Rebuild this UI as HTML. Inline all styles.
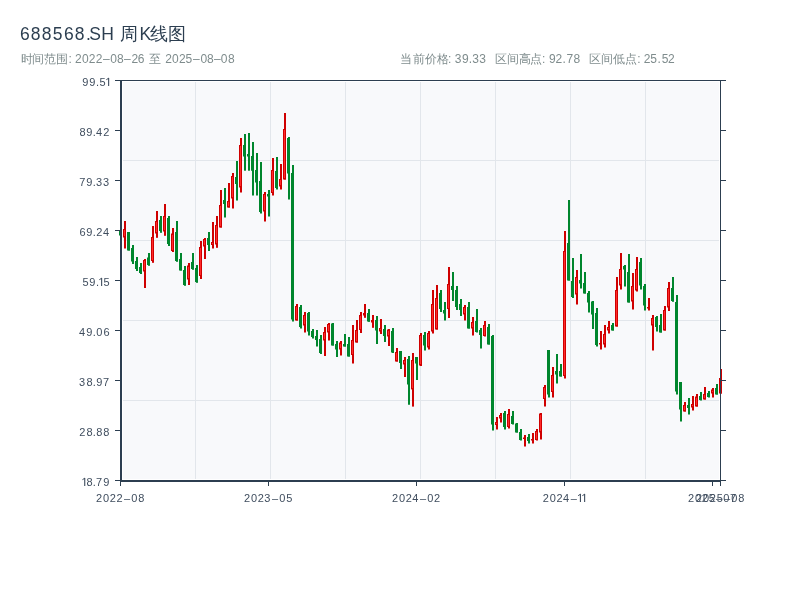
<!DOCTYPE html>
<html><head><meta charset="utf-8"><style>
html,body{margin:0;padding:0;background:#fff;width:800px;height:600px;overflow:hidden}
text{font-family:"Liberation Sans",sans-serif}
svg{will-change:transform}
.t1{font-size:17.5px;fill:#2c3e50}
.t2{font-size:12px;fill:#7f8c8d}
.yl{font-size:11px;fill:#3f4d5e}
.xl{font-size:11px;fill:#3f4d5e}
</style></head><body>
<svg width="800" height="600" viewBox="0 0 800 600" style="position:absolute;left:0;top:0">
<rect x="0" y="0" width="800" height="600" fill="#ffffff"/>
<rect x="123" y="82" width="596" height="397" fill="#f8f9fb"/>
<rect x="195" y="82" width="1" height="397" fill="#e2e6eb"/><rect x="270" y="82" width="1" height="397" fill="#e2e6eb"/><rect x="345" y="82" width="1" height="397" fill="#e2e6eb"/><rect x="420" y="82" width="1" height="397" fill="#e2e6eb"/><rect x="495" y="82" width="1" height="397" fill="#e2e6eb"/><rect x="570" y="82" width="1" height="397" fill="#e2e6eb"/><rect x="645" y="82" width="1" height="397" fill="#e2e6eb"/><rect x="123" y="160" width="596" height="1" fill="#e2e6eb"/><rect x="123" y="240" width="596" height="1" fill="#e2e6eb"/><rect x="123" y="320" width="596" height="1" fill="#e2e6eb"/><rect x="123" y="400" width="596" height="1" fill="#e2e6eb"/>
<rect x="120.0" y="229.0" width="2" height="8.00" fill="#00862d"/><rect x="119.0" y="231.0" width="3" height="4.50" fill="#00862d"/><rect x="124.0" y="221.0" width="2" height="27.50" fill="#cf0000"/><rect x="123.5" y="229.5" width="2" height="7.50" fill="#ff2b2b" stroke="#cf0000" stroke-width="1"/><rect x="128.0" y="232.0" width="2" height="18.50" fill="#00862d"/><rect x="127.0" y="232.0" width="3" height="18.50" fill="#00862d"/><rect x="132.0" y="245.0" width="2" height="19.00" fill="#00862d"/><rect x="131.0" y="248.0" width="3" height="13.50" fill="#00862d"/><rect x="136.0" y="257.0" width="2" height="14.00" fill="#00862d"/><rect x="135.0" y="261.0" width="3" height="8.00" fill="#00862d"/><rect x="140.0" y="263.0" width="2" height="11.00" fill="#00862d"/><rect x="139.0" y="267.0" width="3" height="6.00" fill="#00862d"/><rect x="144.0" y="259.0" width="2" height="29.00" fill="#cf0000"/><rect x="143.5" y="260.5" width="2" height="10.50" fill="#ff2b2b" stroke="#cf0000" stroke-width="1"/><rect x="148.0" y="253.0" width="2" height="12.80" fill="#00862d"/><rect x="147.0" y="257.5" width="3" height="7.50" fill="#00862d"/><rect x="152.0" y="226.0" width="2" height="36.80" fill="#cf0000"/><rect x="151.5" y="237.5" width="2" height="23.00" fill="#ff2b2b" stroke="#cf0000" stroke-width="1"/><rect x="156.0" y="211.0" width="2" height="26.80" fill="#cf0000"/><rect x="155.5" y="221.5" width="2" height="11.50" fill="#ff2b2b" stroke="#cf0000" stroke-width="1"/><rect x="160.0" y="216.0" width="2" height="16.80" fill="#00862d"/><rect x="159.0" y="220.0" width="3" height="11.00" fill="#00862d"/><rect x="164.0" y="204.0" width="2" height="31.80" fill="#cf0000"/><rect x="163.5" y="216.5" width="2" height="14.50" fill="#ff2b2b" stroke="#cf0000" stroke-width="1"/><rect x="168.0" y="216.0" width="2" height="30.00" fill="#00862d"/><rect x="167.0" y="218.0" width="3" height="26.00" fill="#00862d"/><rect x="172.0" y="228.0" width="2" height="24.00" fill="#cf0000"/><rect x="171.5" y="234.0" width="2" height="16.50" fill="#ff2b2b" stroke="#cf0000" stroke-width="1"/><rect x="176.0" y="221.0" width="2" height="40.80" fill="#00862d"/><rect x="175.0" y="232.0" width="3" height="29.00" fill="#00862d"/><rect x="180.0" y="253.0" width="2" height="17.50" fill="#00862d"/><rect x="179.0" y="259.0" width="3" height="11.50" fill="#00862d"/><rect x="184.0" y="266.0" width="2" height="19.80" fill="#00862d"/><rect x="183.0" y="270.0" width="3" height="15.00" fill="#00862d"/><rect x="188.0" y="263.0" width="2" height="22.00" fill="#cf0000"/><rect x="187.5" y="266.0" width="2" height="13.00" fill="#ff2b2b" stroke="#cf0000" stroke-width="1"/><rect x="192.0" y="253.0" width="2" height="16.80" fill="#00862d"/><rect x="191.0" y="262.0" width="3" height="7.00" fill="#00862d"/><rect x="196.0" y="265.0" width="2" height="17.80" fill="#00862d"/><rect x="195.0" y="268.0" width="3" height="14.00" fill="#00862d"/><rect x="200.0" y="241.0" width="2" height="38.00" fill="#cf0000"/><rect x="199.5" y="247.5" width="2" height="28.00" fill="#ff2b2b" stroke="#cf0000" stroke-width="1"/><rect x="204.0" y="238.0" width="2" height="21.00" fill="#cf0000"/><rect x="203.5" y="239.5" width="2" height="6.50" fill="#ff2b2b" stroke="#cf0000" stroke-width="1"/><rect x="208.0" y="232.0" width="2" height="19.00" fill="#00862d"/><rect x="207.0" y="238.0" width="3" height="7.00" fill="#00862d"/><rect x="212.0" y="222.0" width="2" height="26.50" fill="#cf0000"/><rect x="211.5" y="242.5" width="2" height="2.00" fill="#ff2b2b" stroke="#cf0000" stroke-width="1"/><rect x="216.0" y="216.0" width="2" height="31.80" fill="#cf0000"/><rect x="215.5" y="225.5" width="2" height="18.50" fill="#ff2b2b" stroke="#cf0000" stroke-width="1"/><rect x="220.0" y="190.0" width="2" height="37.50" fill="#cf0000"/><rect x="219.5" y="205.5" width="2" height="21.50" fill="#ff2b2b" stroke="#cf0000" stroke-width="1"/><rect x="224.0" y="188.0" width="2" height="29.50" fill="#00862d"/><rect x="223.0" y="200.0" width="3" height="4.00" fill="#00862d"/><rect x="228.0" y="183.0" width="2" height="24.50" fill="#cf0000"/><rect x="227.5" y="201.5" width="2" height="5.50" fill="#ff2b2b" stroke="#cf0000" stroke-width="1"/><rect x="232.0" y="173.0" width="2" height="35.50" fill="#cf0000"/><rect x="231.5" y="176.5" width="2" height="21.50" fill="#ff2b2b" stroke="#cf0000" stroke-width="1"/><rect x="236.0" y="161.0" width="2" height="39.50" fill="#00862d"/><rect x="235.0" y="177.0" width="3" height="7.00" fill="#00862d"/><rect x="240.0" y="138.0" width="2" height="54.50" fill="#cf0000"/><rect x="239.5" y="145.5" width="2" height="41.50" fill="#ff2b2b" stroke="#cf0000" stroke-width="1"/><rect x="244.0" y="134.0" width="2" height="36.70" fill="#00862d"/><rect x="243.0" y="145.0" width="3" height="11.50" fill="#00862d"/><rect x="248.0" y="133.0" width="2" height="37.70" fill="#00862d"/><rect x="247.0" y="154.0" width="3" height="2.50" fill="#00862d"/><rect x="252.0" y="142.0" width="2" height="53.50" fill="#00862d"/><rect x="251.0" y="156.0" width="3" height="14.75" fill="#00862d"/><rect x="256.0" y="153.0" width="2" height="42.50" fill="#00862d"/><rect x="255.0" y="170.0" width="3" height="12.50" fill="#00862d"/><rect x="260.0" y="162.0" width="2" height="51.50" fill="#00862d"/><rect x="259.0" y="181.0" width="3" height="31.00" fill="#00862d"/><rect x="264.0" y="192.0" width="2" height="29.50" fill="#cf0000"/><rect x="263.5" y="194.5" width="2" height="16.50" fill="#ff2b2b" stroke="#cf0000" stroke-width="1"/><rect x="268.0" y="190.0" width="2" height="26.50" fill="#00862d"/><rect x="267.0" y="194.0" width="3" height="2.50" fill="#00862d"/><rect x="272.0" y="158.0" width="2" height="37.50" fill="#cf0000"/><rect x="271.5" y="170.5" width="2" height="22.00" fill="#ff2b2b" stroke="#cf0000" stroke-width="1"/><rect x="276.0" y="157.0" width="2" height="32.50" fill="#00862d"/><rect x="275.0" y="171.0" width="3" height="17.00" fill="#00862d"/><rect x="280.0" y="164.0" width="2" height="25.50" fill="#cf0000"/><rect x="279.5" y="179.5" width="2" height="6.50" fill="#ff2b2b" stroke="#cf0000" stroke-width="1"/><rect x="284.0" y="113.0" width="2" height="66.50" fill="#cf0000"/><rect x="283.5" y="129.5" width="2" height="49.50" fill="#ff2b2b" stroke="#cf0000" stroke-width="1"/><rect x="288.0" y="137.0" width="2" height="62.50" fill="#00862d"/><rect x="287.0" y="138.0" width="3" height="35.50" fill="#00862d"/><rect x="292.0" y="165.0" width="2" height="156.50" fill="#00862d"/><rect x="291.0" y="173.0" width="3" height="146.50" fill="#00862d"/><rect x="296.0" y="304.0" width="2" height="16.50" fill="#cf0000"/><rect x="295.5" y="306.5" width="2" height="13.50" fill="#ff2b2b" stroke="#cf0000" stroke-width="1"/><rect x="300.0" y="305.0" width="2" height="23.50" fill="#00862d"/><rect x="299.0" y="307.0" width="3" height="20.00" fill="#00862d"/><rect x="304.0" y="312.0" width="2" height="20.50" fill="#cf0000"/><rect x="303.5" y="315.5" width="2" height="9.50" fill="#ff2b2b" stroke="#cf0000" stroke-width="1"/><rect x="308.0" y="312.0" width="2" height="23.50" fill="#00862d"/><rect x="307.0" y="313.0" width="3" height="18.50" fill="#00862d"/><rect x="312.0" y="329.0" width="2" height="9.50" fill="#00862d"/><rect x="311.0" y="331.0" width="3" height="6.00" fill="#00862d"/><rect x="316.0" y="330.0" width="2" height="16.50" fill="#00862d"/><rect x="315.0" y="336.0" width="3" height="4.00" fill="#00862d"/><rect x="320.0" y="335.0" width="2" height="19.00" fill="#00862d"/><rect x="319.0" y="339.0" width="3" height="14.00" fill="#00862d"/><rect x="324.0" y="327.0" width="2" height="29.00" fill="#cf0000"/><rect x="323.5" y="332.5" width="2" height="7.50" fill="#ff2b2b" stroke="#cf0000" stroke-width="1"/><rect x="328.0" y="323.0" width="2" height="17.50" fill="#cf0000"/><rect x="327.5" y="324.5" width="2" height="7.50" fill="#ff2b2b" stroke="#cf0000" stroke-width="1"/><rect x="332.0" y="323.0" width="2" height="22.50" fill="#00862d"/><rect x="331.0" y="323.5" width="3" height="22.00" fill="#00862d"/><rect x="336.0" y="341.0" width="2" height="16.00" fill="#00862d"/><rect x="335.0" y="344.0" width="3" height="5.50" fill="#00862d"/><rect x="340.0" y="341.0" width="2" height="14.50" fill="#cf0000"/><rect x="339.5" y="343.0" width="2" height="6.00" fill="#ff2b2b" stroke="#cf0000" stroke-width="1"/><rect x="344.0" y="334.0" width="2" height="12.50" fill="#00862d"/><rect x="343.0" y="344.0" width="3" height="2.50" fill="#00862d"/><rect x="348.0" y="337.0" width="2" height="19.50" fill="#00862d"/><rect x="347.0" y="344.0" width="3" height="12.50" fill="#00862d"/><rect x="352.0" y="325.0" width="2" height="38.50" fill="#cf0000"/><rect x="351.5" y="340.5" width="2" height="14.00" fill="#ff2b2b" stroke="#cf0000" stroke-width="1"/><rect x="356.0" y="320.0" width="2" height="22.50" fill="#cf0000"/><rect x="355.5" y="330.5" width="2" height="11.50" fill="#ff2b2b" stroke="#cf0000" stroke-width="1"/><rect x="360.0" y="312.0" width="2" height="21.00" fill="#cf0000"/><rect x="359.5" y="315.5" width="2" height="14.00" fill="#ff2b2b" stroke="#cf0000" stroke-width="1"/><rect x="364.0" y="304.0" width="2" height="13.80" fill="#cf0000"/><rect x="363.5" y="313.5" width="2" height="1.50" fill="#ff2b2b" stroke="#cf0000" stroke-width="1"/><rect x="368.0" y="309.0" width="2" height="12.80" fill="#00862d"/><rect x="367.0" y="313.0" width="3" height="8.50" fill="#00862d"/><rect x="372.0" y="315.0" width="2" height="12.80" fill="#cf0000"/><rect x="371.5" y="320.5" width="2" height="1.50" fill="#ff2b2b" stroke="#cf0000" stroke-width="1"/><rect x="376.0" y="316.0" width="2" height="28.00" fill="#00862d"/><rect x="375.0" y="320.0" width="3" height="10.50" fill="#00862d"/><rect x="380.0" y="319.0" width="2" height="15.00" fill="#cf0000"/><rect x="379.5" y="328.5" width="2" height="2.50" fill="#ff2b2b" stroke="#cf0000" stroke-width="1"/><rect x="384.0" y="325.0" width="2" height="17.00" fill="#00862d"/><rect x="383.0" y="329.0" width="3" height="7.00" fill="#00862d"/><rect x="388.0" y="329.0" width="2" height="17.00" fill="#cf0000"/><rect x="387.5" y="330.0" width="2" height="6.00" fill="#ff2b2b" stroke="#cf0000" stroke-width="1"/><rect x="392.0" y="328.0" width="2" height="25.00" fill="#00862d"/><rect x="391.0" y="331.0" width="3" height="21.50" fill="#00862d"/><rect x="396.0" y="348.0" width="2" height="13.50" fill="#cf0000"/><rect x="395.5" y="352.5" width="2" height="8.50" fill="#ff2b2b" stroke="#cf0000" stroke-width="1"/><rect x="400.0" y="351.0" width="2" height="18.00" fill="#00862d"/><rect x="399.0" y="351.0" width="3" height="12.00" fill="#00862d"/><rect x="404.0" y="357.0" width="2" height="20.00" fill="#cf0000"/><rect x="403.5" y="360.5" width="2" height="3.50" fill="#ff2b2b" stroke="#cf0000" stroke-width="1"/><rect x="408.0" y="356.0" width="2" height="48.75" fill="#00862d"/><rect x="407.0" y="359.0" width="3" height="25.50" fill="#00862d"/><rect x="412.0" y="353.0" width="2" height="53.60" fill="#cf0000"/><rect x="411.5" y="360.5" width="2" height="28.40" fill="#ff2b2b" stroke="#cf0000" stroke-width="1"/><rect x="416.0" y="357.0" width="2" height="23.00" fill="#00862d"/><rect x="415.0" y="357.0" width="3" height="6.50" fill="#00862d"/><rect x="420.0" y="333.0" width="2" height="33.00" fill="#cf0000"/><rect x="419.5" y="335.5" width="2" height="29.50" fill="#ff2b2b" stroke="#cf0000" stroke-width="1"/><rect x="424.0" y="332.0" width="2" height="18.50" fill="#00862d"/><rect x="423.0" y="335.0" width="3" height="10.50" fill="#00862d"/><rect x="428.0" y="331.0" width="2" height="18.50" fill="#cf0000"/><rect x="427.5" y="333.5" width="2" height="13.50" fill="#ff2b2b" stroke="#cf0000" stroke-width="1"/><rect x="432.0" y="290.0" width="2" height="43.50" fill="#cf0000"/><rect x="431.5" y="304.5" width="2" height="26.50" fill="#ff2b2b" stroke="#cf0000" stroke-width="1"/><rect x="436.0" y="285.0" width="2" height="44.50" fill="#cf0000"/><rect x="435.5" y="298.5" width="2" height="30.50" fill="#ff2b2b" stroke="#cf0000" stroke-width="1"/><rect x="440.0" y="290.0" width="2" height="22.00" fill="#00862d"/><rect x="439.0" y="293.0" width="3" height="16.00" fill="#00862d"/><rect x="444.0" y="302.0" width="2" height="18.50" fill="#00862d"/><rect x="443.0" y="310.0" width="3" height="3.50" fill="#00862d"/><rect x="448.0" y="267.0" width="2" height="51.00" fill="#cf0000"/><rect x="447.5" y="284.5" width="2" height="24.00" fill="#ff2b2b" stroke="#cf0000" stroke-width="1"/><rect x="452.0" y="272.0" width="2" height="29.00" fill="#00862d"/><rect x="451.0" y="286.0" width="3" height="4.00" fill="#00862d"/><rect x="456.0" y="286.0" width="2" height="24.00" fill="#00862d"/><rect x="455.0" y="290.0" width="3" height="17.00" fill="#00862d"/><rect x="460.0" y="299.0" width="2" height="17.00" fill="#00862d"/><rect x="459.0" y="304.0" width="3" height="6.00" fill="#00862d"/><rect x="464.0" y="305.0" width="2" height="15.50" fill="#cf0000"/><rect x="463.5" y="307.5" width="2" height="6.50" fill="#ff2b2b" stroke="#cf0000" stroke-width="1"/><rect x="468.0" y="302.0" width="2" height="26.50" fill="#00862d"/><rect x="467.0" y="307.0" width="3" height="21.50" fill="#00862d"/><rect x="472.0" y="317.0" width="2" height="18.50" fill="#cf0000"/><rect x="471.5" y="322.5" width="2" height="5.50" fill="#ff2b2b" stroke="#cf0000" stroke-width="1"/><rect x="476.0" y="309.0" width="2" height="23.50" fill="#00862d"/><rect x="475.0" y="321.0" width="3" height="11.00" fill="#00862d"/><rect x="480.0" y="328.0" width="2" height="20.50" fill="#00862d"/><rect x="479.0" y="330.0" width="3" height="5.00" fill="#00862d"/><rect x="484.0" y="321.0" width="2" height="15.50" fill="#cf0000"/><rect x="483.5" y="325.5" width="2" height="10.00" fill="#ff2b2b" stroke="#cf0000" stroke-width="1"/><rect x="488.0" y="324.0" width="2" height="20.50" fill="#00862d"/><rect x="487.0" y="327.0" width="3" height="17.50" fill="#00862d"/><rect x="492.0" y="335.0" width="2" height="95.50" fill="#00862d"/><rect x="491.0" y="336.0" width="3" height="88.50" fill="#00862d"/><rect x="496.0" y="417.0" width="2" height="12.50" fill="#cf0000"/><rect x="495.5" y="422.5" width="2" height="2.00" fill="#ff2b2b" stroke="#cf0000" stroke-width="1"/><rect x="500.0" y="413.0" width="2" height="9.50" fill="#cf0000"/><rect x="499.5" y="415.5" width="2" height="2.50" fill="#ff2b2b" stroke="#cf0000" stroke-width="1"/><rect x="504.0" y="411.0" width="2" height="18.50" fill="#00862d"/><rect x="503.0" y="413.0" width="3" height="14.00" fill="#00862d"/><rect x="508.0" y="409.0" width="2" height="19.50" fill="#cf0000"/><rect x="507.5" y="414.5" width="2" height="12.00" fill="#ff2b2b" stroke="#cf0000" stroke-width="1"/><rect x="512.0" y="411.0" width="2" height="13.50" fill="#00862d"/><rect x="511.0" y="416.0" width="3" height="8.00" fill="#00862d"/><rect x="516.0" y="423.0" width="2" height="9.50" fill="#00862d"/><rect x="515.0" y="423.5" width="3" height="9.00" fill="#00862d"/><rect x="520.0" y="429.0" width="2" height="11.50" fill="#00862d"/><rect x="519.0" y="432.0" width="3" height="8.00" fill="#00862d"/><rect x="524.0" y="435.0" width="2" height="11.50" fill="#cf0000"/><rect x="523.0" y="437.5" width="3" height="1.50" fill="#cf0000"/><rect x="528.0" y="434.0" width="2" height="9.50" fill="#00862d"/><rect x="527.0" y="437.0" width="3" height="4.00" fill="#00862d"/><rect x="532.0" y="433.0" width="2" height="10.50" fill="#cf0000"/><rect x="531.0" y="439.0" width="3" height="1.50" fill="#cf0000"/><rect x="536.0" y="429.0" width="2" height="11.50" fill="#cf0000"/><rect x="535.5" y="431.5" width="2" height="8.00" fill="#ff2b2b" stroke="#cf0000" stroke-width="1"/><rect x="540.0" y="413.0" width="2" height="26.50" fill="#cf0000"/><rect x="539.5" y="414.0" width="2" height="18.00" fill="#ff2b2b" stroke="#cf0000" stroke-width="1"/><rect x="544.0" y="385.0" width="2" height="21.50" fill="#cf0000"/><rect x="543.5" y="387.5" width="2" height="11.00" fill="#ff2b2b" stroke="#cf0000" stroke-width="1"/><rect x="548.0" y="350.0" width="2" height="47.50" fill="#00862d"/><rect x="547.0" y="350.0" width="3" height="44.50" fill="#00862d"/><rect x="552.0" y="367.0" width="2" height="30.50" fill="#cf0000"/><rect x="551.5" y="375.5" width="2" height="16.00" fill="#ff2b2b" stroke="#cf0000" stroke-width="1"/><rect x="556.0" y="354.0" width="2" height="29.50" fill="#00862d"/><rect x="555.0" y="371.0" width="3" height="3.50" fill="#00862d"/><rect x="560.0" y="364.0" width="2" height="12.50" fill="#00862d"/><rect x="559.0" y="371.0" width="3" height="5.50" fill="#00862d"/><rect x="564.0" y="231.0" width="2" height="147.50" fill="#cf0000"/><rect x="563.5" y="251.5" width="2" height="124.00" fill="#ff2b2b" stroke="#cf0000" stroke-width="1"/><rect x="568.0" y="200.0" width="2" height="80.50" fill="#00862d"/><rect x="567.0" y="243.0" width="3" height="37.50" fill="#00862d"/><rect x="572.0" y="258.0" width="2" height="40.00" fill="#00862d"/><rect x="571.0" y="281.0" width="3" height="16.00" fill="#00862d"/><rect x="576.0" y="270.0" width="2" height="34.50" fill="#cf0000"/><rect x="575.5" y="277.5" width="2" height="16.50" fill="#ff2b2b" stroke="#cf0000" stroke-width="1"/><rect x="580.0" y="254.0" width="2" height="34.50" fill="#00862d"/><rect x="579.0" y="280.0" width="3" height="3.50" fill="#00862d"/><rect x="584.0" y="272.0" width="2" height="21.50" fill="#00862d"/><rect x="583.0" y="283.0" width="3" height="10.50" fill="#00862d"/><rect x="588.0" y="291.0" width="2" height="21.50" fill="#00862d"/><rect x="587.0" y="293.0" width="3" height="9.50" fill="#00862d"/><rect x="592.0" y="301.0" width="2" height="28.00" fill="#00862d"/><rect x="591.0" y="301.5" width="3" height="13.00" fill="#00862d"/><rect x="596.0" y="308.0" width="2" height="38.50" fill="#00862d"/><rect x="595.0" y="313.0" width="3" height="32.00" fill="#00862d"/><rect x="600.0" y="331.0" width="2" height="18.50" fill="#cf0000"/><rect x="599.0" y="343.0" width="3" height="1.50" fill="#cf0000"/><rect x="604.0" y="325.0" width="2" height="22.50" fill="#cf0000"/><rect x="603.5" y="334.5" width="2" height="9.50" fill="#ff2b2b" stroke="#cf0000" stroke-width="1"/><rect x="608.0" y="321.0" width="2" height="12.50" fill="#cf0000"/><rect x="607.5" y="327.5" width="2" height="2.50" fill="#ff2b2b" stroke="#cf0000" stroke-width="1"/><rect x="612.0" y="323.0" width="2" height="7.50" fill="#00862d"/><rect x="611.0" y="325.0" width="3" height="5.50" fill="#00862d"/><rect x="616.0" y="277.0" width="2" height="49.50" fill="#cf0000"/><rect x="615.5" y="290.5" width="2" height="35.50" fill="#ff2b2b" stroke="#cf0000" stroke-width="1"/><rect x="620.0" y="253.0" width="2" height="36.50" fill="#cf0000"/><rect x="619.5" y="269.5" width="2" height="15.50" fill="#ff2b2b" stroke="#cf0000" stroke-width="1"/><rect x="624.0" y="265.0" width="2" height="21.50" fill="#00862d"/><rect x="623.0" y="266.0" width="3" height="3.50" fill="#00862d"/><rect x="628.0" y="254.0" width="2" height="48.50" fill="#00862d"/><rect x="627.0" y="272.0" width="3" height="30.50" fill="#00862d"/><rect x="632.0" y="273.0" width="2" height="36.50" fill="#cf0000"/><rect x="631.5" y="286.5" width="2" height="14.50" fill="#ff2b2b" stroke="#cf0000" stroke-width="1"/><rect x="636.0" y="257.0" width="2" height="34.50" fill="#cf0000"/><rect x="635.5" y="269.5" width="2" height="20.50" fill="#ff2b2b" stroke="#cf0000" stroke-width="1"/><rect x="640.0" y="258.0" width="2" height="31.50" fill="#00862d"/><rect x="639.0" y="262.0" width="3" height="23.50" fill="#00862d"/><rect x="644.0" y="284.0" width="2" height="26.50" fill="#00862d"/><rect x="643.0" y="286.0" width="3" height="19.50" fill="#00862d"/><rect x="648.0" y="298.0" width="2" height="12.50" fill="#cf0000"/><rect x="647.0" y="307.0" width="3" height="1.50" fill="#cf0000"/><rect x="652.0" y="315.0" width="2" height="35.50" fill="#cf0000"/><rect x="651.5" y="318.5" width="2" height="6.50" fill="#ff2b2b" stroke="#cf0000" stroke-width="1"/><rect x="656.0" y="316.0" width="2" height="15.50" fill="#00862d"/><rect x="655.0" y="317.0" width="3" height="10.00" fill="#00862d"/><rect x="660.0" y="314.0" width="2" height="18.50" fill="#00862d"/><rect x="659.0" y="325.0" width="3" height="7.50" fill="#00862d"/><rect x="664.0" y="306.0" width="2" height="24.50" fill="#cf0000"/><rect x="663.5" y="310.5" width="2" height="19.50" fill="#ff2b2b" stroke="#cf0000" stroke-width="1"/><rect x="668.0" y="282.0" width="2" height="29.00" fill="#cf0000"/><rect x="667.5" y="288.5" width="2" height="18.50" fill="#ff2b2b" stroke="#cf0000" stroke-width="1"/><rect x="672.0" y="277.0" width="2" height="24.80" fill="#00862d"/><rect x="671.0" y="288.0" width="3" height="13.00" fill="#00862d"/><rect x="676.0" y="295.0" width="2" height="99.50" fill="#00862d"/><rect x="675.0" y="302.0" width="3" height="89.50" fill="#00862d"/><rect x="680.0" y="382.0" width="2" height="39.50" fill="#00862d"/><rect x="679.0" y="382.0" width="3" height="27.50" fill="#00862d"/><rect x="684.0" y="402.0" width="2" height="9.50" fill="#cf0000"/><rect x="683.5" y="405.5" width="2" height="5.50" fill="#ff2b2b" stroke="#cf0000" stroke-width="1"/><rect x="688.0" y="398.0" width="2" height="16.50" fill="#00862d"/><rect x="687.0" y="405.0" width="3" height="3.00" fill="#00862d"/><rect x="692.0" y="396.0" width="2" height="14.50" fill="#cf0000"/><rect x="691.5" y="404.5" width="2" height="2.50" fill="#ff2b2b" stroke="#cf0000" stroke-width="1"/><rect x="696.0" y="394.0" width="2" height="12.50" fill="#cf0000"/><rect x="695.5" y="397.0" width="2" height="9.00" fill="#ff2b2b" stroke="#cf0000" stroke-width="1"/><rect x="700.0" y="392.0" width="2" height="8.50" fill="#00862d"/><rect x="699.0" y="396.0" width="3" height="4.00" fill="#00862d"/><rect x="704.0" y="387.0" width="2" height="12.50" fill="#cf0000"/><rect x="703.5" y="394.5" width="2" height="4.50" fill="#ff2b2b" stroke="#cf0000" stroke-width="1"/><rect x="708.0" y="391.0" width="2" height="6.50" fill="#00862d"/><rect x="707.0" y="393.0" width="3" height="4.00" fill="#00862d"/><rect x="712.0" y="388.0" width="2" height="9.50" fill="#cf0000"/><rect x="711.5" y="390.0" width="2" height="3.00" fill="#ff2b2b" stroke="#cf0000" stroke-width="1"/><rect x="716.0" y="384.0" width="2" height="10.50" fill="#00862d"/><rect x="715.0" y="388.0" width="3" height="6.50" fill="#00862d"/><rect x="720.0" y="369.0" width="2" height="24.50" fill="#cf0000"/><rect x="719.5" y="378.5" width="2" height="14.50" fill="#ff2b2b" stroke="#cf0000" stroke-width="1"/>
<rect x="120" y="80" width="601" height="1" fill="#2c3e50"/>
<rect x="720" y="80" width="1" height="402" fill="#2c3e50"/>
<rect x="120" y="80" width="2" height="402" fill="#2c3e50"/>
<rect x="120" y="480" width="601" height="2" fill="#2c3e50"/>
<rect x="115" y="80" width="5" height="1" fill="#2c3e50"/><rect x="721" y="80" width="5" height="1" fill="#2c3e50"/><text x="82.32 89.32 95.91 99.47" y="86" class="yl">99.5</text><rect x="108.08" y="78" width="1.1" height="8" fill="#3f4d5e"/><path d="M106.33 79.70 L108.83 78.10" stroke="#3f4d5e" stroke-width="1" fill="none"/><rect x="115" y="130" width="5" height="1" fill="#2c3e50"/><rect x="721" y="130" width="5" height="1" fill="#2c3e50"/><text x="79.4 86.27 92.86 95.94 103.22" y="136" class="yl">89.42</text><rect x="115" y="180" width="5" height="1" fill="#2c3e50"/><rect x="721" y="180" width="5" height="1" fill="#2c3e50"/><text x="79.16 86.27 92.86 95.95 102.95" y="186" class="yl">79.33</text><rect x="115" y="230" width="5" height="1" fill="#2c3e50"/><rect x="721" y="230" width="5" height="1" fill="#2c3e50"/><text x="79.52 86.27 92.86 96.22 102.94" y="236" class="yl">69.24</text><rect x="115" y="280" width="5" height="1" fill="#2c3e50"/><rect x="721" y="280" width="5" height="1" fill="#2c3e50"/><text x="82.57 89.32 95.91 103.42" y="286" class="yl">59.5</text><rect x="101.08" y="278" width="1.1" height="8" fill="#3f4d5e"/><path d="M99.33 279.70 L101.83 278.10" stroke="#3f4d5e" stroke-width="1" fill="none"/><rect x="115" y="330" width="5" height="1" fill="#2c3e50"/><rect x="721" y="330" width="5" height="1" fill="#2c3e50"/><text x="79.04 86.27 92.86 96.28 103.42" y="336" class="yl">49.06</text><rect x="115" y="380" width="5" height="1" fill="#2c3e50"/><rect x="721" y="380" width="5" height="1" fill="#2c3e50"/><text x="79.05 86.4 92.86 96.17 103.06" y="386" class="yl">38.97</text><rect x="115" y="430" width="5" height="1" fill="#2c3e50"/><rect x="721" y="430" width="5" height="1" fill="#2c3e50"/><text x="79.32 86.4 92.86 96.3 103.3" y="436" class="yl">28.88</text><rect x="115" y="480" width="5" height="1" fill="#2c3e50"/><rect x="721" y="480" width="5" height="1" fill="#2c3e50"/><text x="86.4 92.86 96.06 103.17" y="486" class="yl">8.79</text><rect x="84.18" y="478" width="1.1" height="8" fill="#3f4d5e"/><path d="M82.43 479.70 L84.93 478.10" stroke="#3f4d5e" stroke-width="1" fill="none"/>
<rect x="120" y="482" width="1" height="4" fill="#2c3e50"/><text x="96.07 102.98 109.77 116.62 123.98 131.28 138.15" y="502" class="xl">2022–08</text><rect x="268" y="482" width="1" height="4" fill="#2c3e50"/><text x="244.07 250.98 257.77 264.35 271.98 279.28 286.27" y="502" class="xl">2023–05</text><rect x="416" y="482" width="1" height="4" fill="#2c3e50"/><text x="392.07 398.98 405.77 412.34 419.98 427.28 434.07" y="502" class="xl">2024–02</text><rect x="564" y="482" width="1" height="4" fill="#2c3e50"/><text x="542.72 549.63 556.42 562.99 570.63" y="502" class="xl">2024–</text><rect x="579.88" y="494" width="1.1" height="8" fill="#3f4d5e"/><path d="M578.13 495.70 L580.63 494.10" stroke="#3f4d5e" stroke-width="1" fill="none"/><rect x="584.08" y="494" width="1.1" height="8" fill="#3f4d5e"/><path d="M582.33 495.70 L584.83 494.10" stroke="#3f4d5e" stroke-width="1" fill="none"/><rect x="712" y="482" width="1" height="4" fill="#2c3e50"/><text x="688.07 694.98 701.77 708.82 715.98 723.28 729.91" y="502" class="xl">2025–07</text><rect x="720" y="482" width="1" height="4" fill="#2c3e50"/><text x="696.07 702.98 709.77 716.82 723.98 731.28 738.15" y="502" class="xl">2025–08</text>
<text x="20.01 30.81 41.81 52.71 64.01 74.81 86.01 89.3 101.35 120.48 139.62 149.7 167.8" y="40" class="t1">688568.SH周K线图</text>
<text x="20.54 32.3 44.15 56.39 68.57 75.04 81.96 88.74 95.64 103.01 110.21 117.07 124.01 131.39 137.84 148.92 165.34 171.91 178.94 185.57 193.11 200.61 207.12 213.91 220.76 227.92" y="63" class="t2">时间范围:2022–08–26至2025–08–08</text>
<text x="399.98 412.78 425.26 437.0 448.02 454.66 461.9 468.77 472.21 479.21 495.11 507.2 518.96 530.22 542.02 548.9 555.44 562.57 566.57 573.42 589.26 600.85 612.9 625.02 637.32 643.64 650.37 657.62 661.67 667.99" y="63" class="t2">当前价格:39.33区间高点:92.78区间低点:25.52</text>
</svg>
</body></html>
